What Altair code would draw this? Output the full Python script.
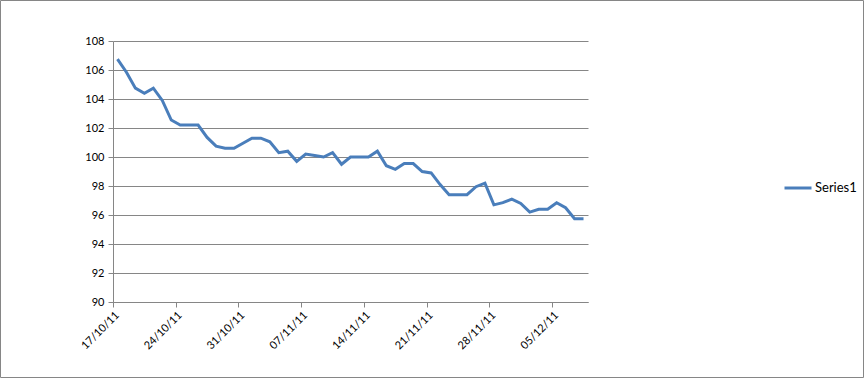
import altair as alt
import pandas as pd

start_date = "2011-10-17"
values = [
    106.75, 105.85, 104.75, 104.4, 104.75, 103.9, 102.55, 102.2, 102.2, 102.2,
    101.35, 100.75, 100.6, 100.6, 100.95, 101.3, 101.3, 101.05, 100.3, 100.4,
    99.7, 100.2, 100.1, 100.0, 100.3, 99.5, 100.0, 100.0, 100.0, 100.4,
    99.4, 99.15, 99.55, 99.55, 99.0, 98.9, 98.1, 97.4, 97.4, 97.4,
    97.95, 98.2, 96.7, 96.85, 97.1, 96.8, 96.2, 96.4, 96.4, 96.85,
    96.5, 95.75, 95.75,
]
tick_dates = ["2011-10-17", "2011-10-24", "2011-10-31", "2011-11-07",
              "2011-11-14", "2011-11-21", "2011-11-28", "2011-12-05"]
y_ticks = [90, 92, 94, 96, 98, 100, 102, 104, 106, 108]
series_name = "Series1"

dates = pd.date_range(start_date, periods=len(values), freq="D") + pd.Timedelta(hours=12)
df = pd.DataFrame({
    "date": [d.strftime("%Y-%m-%dT%H:%M:%SZ") for d in dates],
    "value": values,
    "series": series_name,
})

def dt(s):
    t = pd.Timestamp(s)
    return alt.DateTime(year=t.year, month=t.month, date=t.day, utc=True)

x_domain = [dt(start_date), dt("2011-12-09")]
FONT = "Lato"
GRAY = "#868686"

line = alt.Chart(df).mark_line(strokeWidth=3).encode(
    x=alt.X("date:T",
            scale=alt.Scale(type="utc", domain=x_domain),
            axis=alt.Axis(values=[dt(d) for d in tick_dates], format="%d/%m/%y",
                          labelAngle=-45, title=None, grid=False,
                          tickSize=5, labelPadding=2)),
    y=alt.Y("value:Q",
            scale=alt.Scale(domain=[90, 108], zero=False, nice=False),
            axis=alt.Axis(values=y_ticks, title=None, grid=True,
                          tickSize=5, labelPadding=4)),
    color=alt.Color("series:N",
                    scale=alt.Scale(range=["#4A7EBB"]),
                    legend=alt.Legend(title=None, orient="none",
                                      legendX=670, legendY=132,
                                      symbolType="stroke", symbolSize=729,
                                      symbolStrokeWidth=3, padding=0,
                                      labelFontSize=13, labelFont=FONT,
                                      labelColor="black",
                                      labelOffset=2)),
)

border = alt.Chart(pd.DataFrame({"a": [0]})).mark_rect(
    filled=False, stroke=GRAY, strokeWidth=1
).encode(
    x=alt.value(-112.5), x2=alt.value(750.5),
    y=alt.value(-40.5), y2=alt.value(336.5),
)

chart = alt.layer(border, line).properties(
    width=475, height=261,
    autosize=alt.AutoSizeParams(type="none"),
    padding={"left": 113, "top": 41, "right": 278, "bottom": 82},
    background="white",
).configure_view(stroke=None).configure_axis(
    gridColor=GRAY, domainColor=GRAY, tickColor=GRAY,
    labelColor="black", labelFont=FONT, labelFontSize=11,
)

chart.save("out.html", embed_options={"renderer": "svg", "actions": False})
